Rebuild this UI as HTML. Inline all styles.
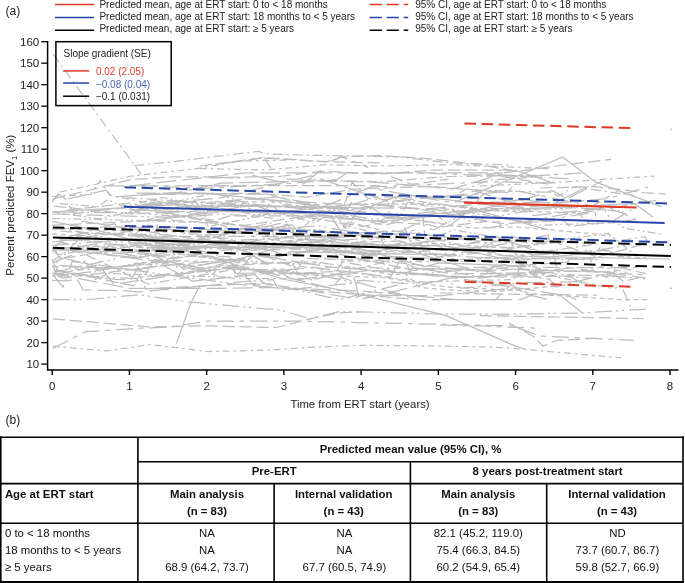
<!DOCTYPE html>
<html><head><meta charset="utf-8"><style>
html,body{margin:0;padding:0;background:#fff;width:685px;height:583px;overflow:hidden}
svg{display:block;will-change:transform}
text{font-family:"Liberation Sans",sans-serif}
</style></head><body>
<svg width="685" height="583" viewBox="0 0 685 583" shape-rendering="geometricPrecision">
<g fill="none" stroke="#bdbdbd" stroke-width="1.25" stroke-linejoin="round">
<polyline points="53.7,211.8 146.4,206.3 185.0,204.1 194.3,210.0 232.9,205.2 348.8,207.7 352.0,201.9"/>
<polyline points="75.4,234.6 90.8,236.2 100.1,231.5 215.9,245.1 231.4,227.8 240.6,250.4 302.4,248.8 311.7,246.4 317.9,244.9 433.7,245.5 510.9,240.8 522.9,270.8" stroke-dasharray="10 4 2 4"/>
<polyline points="52.2,229.0 129.4,226.6 191.2,231.1 200.5,236.5 209.7,235.0 271.5,231.4 287.0,224.0 296.2,234.5 388.9,245.9 450.7,239.5 512.5,236.7 542.0,243.9" stroke-dasharray="20 6"/>
<polyline points="52.2,225.3 168.0,220.0 245.3,225.3 307.1,216.0 313.2,216.6 429.1,224.8 438.4,227.4 484.7,221.5 500.1,222.2 500.6,228.5" stroke-dasharray="12.3 4.7"/>
<polyline points="52.2,221.3 98.5,230.7 175.8,251.6 214.4,230.5 253.0,232.2 291.6,224.7 307.1,238.9 353.4,244.2 446.1,246.0 507.9,259.8 523.3,260.0 596.2,252.2"/>
<polyline points="59.9,249.1 137.2,257.8 214.4,243.8 220.6,245.9 259.2,248.5 274.6,251.4 283.9,255.0 290.1,251.7 405.9,254.1 456.1,254.6"/>
<polyline points="52.2,260.7 61.5,255.3 70.7,247.7 148.0,284.0 225.2,271.1 234.5,268.0 296.2,271.4 311.7,280.1 404.4,257.1 411.3,276.5" stroke-dasharray="10 4 2 4"/>
<polyline points="52.2,248.6 61.5,250.5 123.3,253.7 138.7,251.4 231.4,243.3 324.0,249.4 362.7,241.9 401.3,241.2 439.9,257.3 478.5,252.9 484.7,246.6 490.9,243.7 529.5,253.8 645.3,236.9 649.7,246.6" stroke-dasharray="10 4 2 4"/>
<polyline points="52.2,264.9 58.4,276.6 135.6,264.6 144.9,274.7 154.1,260.5 192.8,281.2 270.0,273.1 331.8,288.5 341.0,277.6 418.3,299.6 495.5,299.6 510.9,284.6 526.4,294.4 548.9,299.6" stroke-dasharray="20 6"/>
<polyline points="52.2,201.8 58.4,194.0 64.6,198.3 73.8,213.6 166.5,203.0 205.1,207.5 243.7,198.7 336.4,203.8 375.0,204.6 467.7,212.7 544.9,205.5 603.0,209.8" stroke-dasharray="20 6"/>
<polyline points="75.4,231.2 90.8,233.3 168.0,234.9 183.5,245.3 198.9,244.0 214.4,229.8 223.7,228.6 316.3,229.6 385.0,239.3" stroke-dasharray="8 3 2 3 2 3"/>
<polyline points="59.9,239.3 69.2,249.0 78.5,239.9 155.7,249.3 271.5,222.9 274.0,239.7" stroke-dasharray="8 3 2 3 2 3"/>
<polyline points="67.6,237.4 114.0,223.8 152.6,245.6 229.8,236.4 307.1,236.6 368.8,235.0 378.1,237.7 382.5,246.9" stroke-dasharray="17 6 4.7 6"/>
<polyline points="53.7,272.4 131.0,255.4 208.2,269.0 246.8,265.9 262.3,282.2 339.5,299.6 401.3,284.2 410.5,274.7 472.3,269.6 549.6,279.2 555.7,287.2 602.1,275.1 645.1,279.1" stroke-dasharray="17 4 2.3 3.5 2.3 5"/>
<polyline points="52.2,242.0 129.4,231.3 175.8,251.0 268.4,239.0 384.3,252.1 430.6,245.7 436.8,244.5 446.1,250.6 492.4,236.7 538.7,251.0 548.0,251.3 555.5,250.9" stroke-dasharray="12.3 4.7"/>
<polyline points="59.9,203.7 98.5,206.6 107.8,199.6 123.3,207.0 161.9,197.5 254.5,214.6 293.2,213.7 308.6,203.4 354.9,214.3 401.3,213.9 407.5,203.1 500.1,217.2 538.7,225.2 616.0,222.7 625.2,228.4 661.5,234.2" stroke-dasharray="8 3 2 3 2 3"/>
<polyline points="56.1,262.7 71.5,248.1 148.7,242.5 164.2,265.3 170.4,252.8 216.7,259.2 293.9,263.8 328.5,263.6" stroke-dasharray="8 3 2 3 2 3"/>
<polyline points="52.2,266.5 114.0,267.6 175.8,260.6 214.4,272.7 220.6,264.9 282.3,274.3 297.8,266.0 375.0,275.5 421.4,281.9 514.0,279.5 520.2,268.0 535.7,272.6 612.9,288.7 617.2,287.4" stroke-dasharray="6.8 3.9 2.5 3.9"/>
<polyline points="52.2,214.0 168.0,217.3 245.3,206.6 260.7,212.9 276.2,200.2 282.3,204.9 375.0,219.4 452.3,209.0 467.7,221.0 560.4,205.7 566.6,215.5 656.1,200.4" stroke-dasharray="17 4 2.3 3.5 2.3 5"/>
<polyline points="52.2,273.4 129.4,288.3 222.1,288.3 260.7,287.7 270.0,287.6 362.7,291.1 455.3,299.6 464.6,299.6 473.9,299.6 520.2,299.6 535.1,294.0" stroke-dasharray="20 6"/>
<polyline points="59.9,241.0 98.5,238.0 144.9,240.7 191.2,246.6 266.0,248.0"/>
<polyline points="59.9,247.5 152.6,253.6 161.9,244.0 254.5,250.0 331.8,240.3 338.0,261.1 430.6,261.7 507.9,260.8 546.5,270.3 555.7,274.1 614.2,276.8" stroke-dasharray="6.8 3.9 2.5 3.9"/>
<polyline points="53.7,206.2 131.0,214.0 208.2,210.7 285.4,213.7 362.7,226.4 439.9,212.2 501.7,223.7 563.5,220.4 569.6,226.3 635.9,219.7" stroke-dasharray="12.3 4.7"/>
<polyline points="52.2,250.4 168.0,244.8 177.3,268.0 223.7,261.4 229.8,268.6 276.2,270.3 291.6,274.3 384.3,277.6 446.1,287.0 523.3,290.6 529.5,293.9 622.2,299.6 647.9,299.6" stroke-dasharray="5 3.5"/>
<polyline points="59.9,231.0 152.6,237.2 168.0,236.2 214.4,237.0 260.7,248.1 307.1,239.2 384.3,261.4 477.0,270.8 535.9,264.1" stroke-dasharray="12.3 4.7"/>
<polyline points="52.2,218.4 129.4,220.2 206.7,222.8 215.9,222.7 231.4,229.0 270.0,226.4 331.8,232.7 338.0,222.7 415.2,245.5 453.8,229.8 531.0,243.6 608.3,233.4 634.7,254.5" stroke-dasharray="8 3 2 3 2 3"/>
<polyline points="67.6,259.1 106.3,268.7 183.5,256.4 229.8,256.5 236.0,278.0 251.5,254.6 328.7,266.8 444.5,276.6 537.2,277.0 614.4,274.6 623.7,281.5 642.2,276.8" stroke-dasharray="12.3 4.7"/>
<polyline points="59.9,271.6 175.8,262.4 222.1,277.3 237.6,278.6 314.8,278.9 324.0,267.2 439.9,268.9 478.5,276.8 594.4,269.6 600.5,266.7 629.6,272.9" stroke-dasharray="6.8 3.9 2.5 3.9"/>
<polyline points="53.7,262.2 100.1,244.3 106.3,254.9 183.5,264.5 192.8,266.5 254.5,256.4 293.2,280.2 370.4,270.2 432.2,274.4 478.5,278.1 571.2,268.0 609.8,273.4 645.3,277.8" stroke-dasharray="20 6"/>
<polyline points="52.2,228.8 168.0,231.9 245.3,232.4 251.5,233.6 328.7,242.4 334.9,236.6 350.3,222.2 427.5,242.9 504.8,248.0 582.0,239.7 591.3,262.0 600.5,246.9 616.0,256.5 646.1,257.9" stroke-dasharray="5 3.5"/>
<polyline points="53.7,275.7 63.0,287.2 72.3,261.3 165.0,274.5 226.7,282.8 273.1,279.7 279.3,290.6 356.5,282.9 364.9,279.8" stroke-dasharray="17 4 2.3 3.5 2.3 5"/>
<polyline points="53.7,247.1 59.9,259.1 137.2,245.4 143.3,247.6 189.7,247.8 305.5,247.5 367.3,255.2 483.1,247.0 489.3,253.1 551.1,241.0 597.4,257.0 647.2,243.3" stroke-dasharray="12.3 4.7"/>
<polyline points="52.2,275.8 98.5,264.8 114.0,284.1 191.2,272.8 237.6,266.9 253.0,284.7 274.3,284.8" stroke-dasharray="20 6"/>
<polyline points="53.7,248.8 59.9,242.3 137.2,256.2 214.4,253.2 223.7,245.3 232.9,251.7 271.5,244.6 348.8,247.9 364.2,252.4 406.3,247.0" stroke-dasharray="17 4 2.3 3.5 2.3 5"/>
<polyline points="67.6,210.1 129.4,203.0 175.8,214.5 214.4,220.5 229.8,215.9 345.7,216.0 384.3,225.2 422.9,216.4 424.9,237.3" stroke-dasharray="12.3 4.7"/>
<polyline points="59.9,212.0 137.2,212.8 183.5,217.3 222.1,213.9 272.9,218.1" stroke-dasharray="17 4 2.3 3.5 2.3 5"/>
<polyline points="52.2,260.1 61.5,278.1 177.3,264.0 183.5,269.1 245.3,264.6 291.6,262.3 297.8,273.2 336.4,271.4 342.6,261.9 404.4,273.2 419.8,268.6 426.0,268.6 503.2,270.5 512.5,268.9 589.7,271.6 642.7,274.7" stroke-dasharray="12.3 4.7"/>
<polyline points="52.2,250.5 58.4,254.5 120.2,244.9 197.4,270.8 259.2,253.4 297.8,268.8 304.0,258.3 381.2,260.7 390.5,272.1 467.7,277.8 483.1,275.6 498.6,263.5 555.4,276.0" stroke-dasharray="12.3 4.7"/>
<polyline points="75.4,269.9 84.6,261.3 93.9,279.9 132.5,263.4 178.9,260.8 256.1,263.2 317.9,261.9 395.1,275.1 404.4,272.5 419.8,287.6 458.4,290.5 497.0,291.4 570.0,284.8" stroke-dasharray="5 3.5"/>
<polyline points="67.6,199.0 106.3,190.1 112.4,197.0 174.2,192.7 266.9,194.5 313.2,205.7 351.9,207.5 429.1,208.8 521.8,199.7 568.3,205.0" stroke-dasharray="20 6"/>
<polyline points="59.9,237.8 137.2,239.9 214.4,241.4 291.6,245.3 353.4,243.6 446.1,250.0 452.3,250.9 514.0,256.4 606.7,250.3 627.6,258.6" stroke-dasharray="17 6 4.7 6"/>
<polyline points="52.2,233.8 129.4,240.4 144.9,224.5 183.5,233.1 229.8,238.7 245.3,246.8 322.5,236.2 338.0,246.6 415.2,230.0 453.8,259.8 492.4,258.4 514.5,258.9" stroke-dasharray="5 3.5"/>
<polyline points="52.2,250.0 98.5,243.8 160.3,245.6 237.6,262.3 246.8,256.5 293.2,243.2 370.4,255.5 432.2,258.2 548.0,235.0 556.4,266.3" stroke-dasharray="20 6"/>
<polyline points="52.2,211.9 98.5,218.9 214.4,193.0 276.2,212.2 314.8,223.0 330.2,213.3 407.5,200.0 500.1,211.3 577.4,207.6 616.0,210.9 622.2,210.6 624.7,214.9" stroke-dasharray="8 3 2 3 2 3"/>
<polyline points="53.7,270.9 115.5,279.3 131.0,279.7 137.2,268.8 152.6,276.7 229.8,268.5 276.2,273.0 353.4,274.5 359.6,299.6 452.3,277.6 568.1,296.0 576.2,299.6" stroke-dasharray="20 6"/>
<polyline points="52.2,280.3 67.6,280.8 76.9,278.8 83.1,290.0 121.7,290.6 137.2,291.9 229.8,283.7 307.1,290.1 353.4,298.4 362.7,295.2 439.9,295.8 515.6,287.8" stroke-dasharray="20 6"/>
<polyline points="52.2,273.4 90.8,276.8 137.2,278.6 143.3,276.7 220.6,268.2 313.2,273.9 351.9,282.2 361.1,280.4 407.5,283.5 446.1,280.8 461.5,288.2 523.3,282.9 582.0,281.6" stroke-dasharray="17 4 2.3 3.5 2.3 5"/>
<polyline points="56.1,269.8 133.3,285.7 139.5,275.5 145.6,288.8 261.5,283.2 307.8,290.1 415.8,299.6" stroke-dasharray="12.3 4.7"/>
<polyline points="75.4,273.3 90.8,276.4 97.0,269.4 103.2,272.7 112.4,273.7 228.3,277.1 284.4,268.9" stroke-dasharray="8 3 2 3 2 3"/>
<polyline points="52.2,196.5 90.8,194.3 100.1,180.5 109.4,195.0 155.7,204.8 194.3,201.8 240.6,207.7 246.8,197.4 308.6,207.5 370.4,203.7 432.2,211.1 449.6,225.7" stroke-dasharray="6.8 3.9 2.5 3.9"/>
<polyline points="75.4,237.8 81.5,233.0 174.2,249.2 183.5,243.2 299.3,237.0 305.5,243.1 398.2,235.6 404.4,227.3 410.5,241.4 426.0,236.8 503.2,255.7 595.9,250.7 631.4,244.5" stroke-dasharray="17 4 2.3 3.5 2.3 5"/>
<polyline points="52.2,245.4 144.9,238.0 154.1,249.2 231.4,248.6 308.6,233.0 385.8,249.6 392.0,246.2 469.2,236.3 531.7,247.3" stroke-dasharray="17 4 2.3 3.5 2.3 5"/>
<polyline points="59.9,239.6 175.8,244.6 237.6,260.5 314.8,250.1 407.5,251.3 484.7,258.2 531.0,258.6 602.8,259.6" stroke-dasharray="17 4 2.3 3.5 2.3 5"/>
<polyline points="67.6,232.5 83.1,221.2 198.9,239.7 291.6,244.7 330.2,238.5 376.6,232.8 385.8,247.1 401.3,242.5 478.5,249.7 494.0,236.2 540.3,252.7 559.8,255.0" stroke-dasharray="12.3 4.7"/>
<polyline points="52.2,248.1 129.4,252.4 175.8,258.4 253.0,245.6 330.2,251.7 336.4,253.6 413.6,270.3 529.5,265.0 568.1,262.0 572.6,251.4" stroke-dasharray="12.3 4.7"/>
<polyline points="59.9,265.4 137.2,269.8 152.6,266.6 229.8,259.7 236.0,273.3 251.5,273.2 313.2,267.4 390.5,277.1 399.7,260.7 415.2,267.8 453.8,274.0 553.7,272.5" stroke-dasharray="20 6"/>
<polyline points="138.4,208.6 231.1,224.4 292.9,232.4 331.5,209.2 346.9,229.8 356.2,212.3 472.1,228.1 518.4,227.0 595.6,234.1 609.9,236.6" stroke-dasharray="5 3.5"/>
<polyline points="141.1,204.5 218.4,198.2 311.0,175.8 388.3,201.6 465.5,194.1 474.8,190.9 513.4,203.1 552.0,190.6 567.4,198.5 602.1,181.2" stroke-dasharray="20 6"/>
<polyline points="152.5,200.3 191.1,208.3 237.4,202.8 314.7,209.8 330.1,212.2 376.4,196.7 438.2,197.5 515.5,190.6 592.7,205.9 617.8,191.0" stroke-dasharray="17 6 4.7 6"/>
<polyline points="150.4,236.0 165.8,249.7 258.5,225.9 264.7,240.1 270.9,229.8 317.2,225.6 363.6,234.0 402.2,230.8 417.6,222.7 433.1,230.0 471.7,210.4 487.1,228.2 603.0,207.4 612.2,221.5 635.3,207.4" stroke-dasharray="17 4 2.3 3.5 2.3 5"/>
<polyline points="137.0,234.7 214.2,242.9 223.5,245.2 269.8,258.0 347.0,245.2 424.3,266.6 439.7,262.8 516.5,266.0"/>
<polyline points="126.7,197.6 203.9,202.8 265.7,206.3 342.9,208.5 352.2,182.2 367.6,198.1 373.8,199.1 380.0,199.6 441.8,196.4 451.0,197.5 466.5,189.1 472.7,186.5 488.1,180.3 536.4,177.1" stroke-dasharray="10 4 2 4"/>
<polyline points="136.4,193.1 175.0,193.1 221.3,183.2 314.0,180.7 375.8,182.3 453.0,188.8 499.3,174.7 574.4,179.3" stroke-dasharray="20 6"/>
<polyline points="146.2,220.4 192.5,205.2 201.8,204.5 208.0,226.5 285.2,211.2 377.9,221.4 387.1,217.8 393.3,200.8 470.5,208.3 538.3,209.1" stroke-dasharray="8 3 2 3 2 3"/>
<polyline points="149.8,202.3 265.7,201.9 271.8,206.4 349.1,208.7 364.5,209.0 370.7,208.8 376.9,204.2 438.7,204.0 485.0,210.5 577.7,212.7 590.4,223.8" stroke-dasharray="5 3.5"/>
<polyline points="122.8,205.4 200.0,219.9 315.8,236.0 393.1,230.8 480.7,241.5" stroke-dasharray="12.3 4.7"/>
<polyline points="122.1,203.8 137.6,212.1 146.9,203.7 156.1,208.5 171.6,210.0 177.7,207.1 187.0,206.1 196.3,206.2 273.5,206.5 279.7,212.1 356.9,204.2 372.4,208.2 387.8,218.5 397.1,218.1 474.3,209.6 548.7,229.8"/>
<polyline points="143.9,238.6 259.7,242.3 375.6,254.4 391.0,245.0 479.1,272.0"/>
<polyline points="131.5,195.6 140.7,195.0 202.5,193.2 279.8,200.8 357.0,211.5 403.3,194.1 519.2,208.9 635.0,203.7 652.8,217.0"/>
<polyline points="147.4,220.9 224.6,211.2 301.8,213.5 379.1,221.5 456.3,214.1 502.6,204.6 549.0,205.8 588.4,186.2"/>
<polyline points="130.6,185.8 246.5,172.8 339.1,172.8 416.4,172.8 503.0,172.8" stroke-dasharray="20 6"/>
<polyline points="146.3,194.3 262.2,193.2 268.4,194.4 307.0,197.1 353.3,189.1 430.5,186.4 507.8,192.6 514.1,184.1" stroke-dasharray="12.3 4.7"/>
<polyline points="128.9,185.5 206.1,188.4 298.8,182.7 337.4,179.6 346.7,172.8 408.5,172.8 524.3,176.4 584.4,172.8" stroke-dasharray="17 6 4.7 6"/>
<polyline points="129.3,209.8 206.5,212.9 215.8,201.6 277.6,197.1 323.9,205.7 330.1,204.2 368.7,187.8 446.0,201.6 561.8,202.7 608.1,198.4 648.0,187.1" stroke-dasharray="17 6 4.7 6"/>
<polyline points="129.6,227.3 145.0,228.2 151.2,225.5 243.9,232.2 321.1,213.4 330.4,214.8 339.6,229.7 348.9,221.7 358.2,211.3 450.8,224.8 466.3,212.9 484.0,193.5" stroke-dasharray="17 4 2.3 3.5 2.3 5"/>
<polyline points="457.8,214.3 519.6,206.2 525.7,211.7 531.9,215.7 609.2,207.4 615.3,211.2 621.5,212.6 636.4,219.9" stroke-dasharray="20 6"/>
<polyline points="471.4,215.9 533.1,221.9 594.9,212.2 597.7,224.6" stroke-dasharray="17 6 4.7 6"/>
<polyline points="475.0,190.2 552.2,192.3 558.4,196.2 573.8,186.8 634.2,195.5" stroke-dasharray="10 4 2 4"/>
<polyline points="53.0,54.0 141.0,174.0" stroke-dasharray="10 4 2 4"/>
<polyline points="134.0,165.5 170.0,162.0 202.8,158.0 258.8,151.4 264.5,153.7 300.0,155.0 352.0,156.0 400.0,157.0 450.0,163.0 512.0,165.0" stroke-dasharray="10 4 2 4"/>
<polyline points="215.0,164.7 262.6,158.0 279.7,159.0 330.0,161.8 380.0,163.0" stroke-dasharray="12.3 4.7"/>
<polyline points="455.0,202.0 472.0,195.2 562.7,157.0 594.7,181.6 661.3,206.6"/>
<polyline points="470.0,176.0 520.0,171.0 562.0,165.2 611.0,159.4" stroke-dasharray="12.3 4.7"/>
<polyline points="480.0,186.0 562.0,182.0 654.3,176.2" stroke-dasharray="6.8 3.9 2.5 3.9"/>
<polyline points="540.0,188.0 594.7,186.7 625.0,190.2 643.8,192.6 666.0,194.2" stroke-dasharray="12.3 4.7"/>
<polyline points="52.7,299.5 87.7,299.5 139.1,294.8 188.2,301.8 208.0,303.7 246.7,307.2 281.8,310.2 309.8,318.9 337.8,311.9 360.0,311.9 440.0,314.0 512.0,314.0 581.0,313.0 648.0,309.0" stroke-dasharray="17 4 2.3 3.5 2.3 5"/>
<polyline points="52.7,318.9 150.8,327.0 202.0,325.9 277.0,327.5 305.0,320.0 337.8,313.0 360.0,312.0" stroke-dasharray="12.3 4.7"/>
<polyline points="52.7,348.5 85.4,331.7 141.4,328.2 169.5,327.0 208.0,321.2 305.0,321.2 352.0,322.4 512.0,325.9 540.0,336.0 634.0,340.4" stroke-dasharray="17 6 4.7 6"/>
<polyline points="52.7,346.2 106.4,350.9 150.8,344.6 208.0,351.6 270.0,350.0 305.0,347.6 360.0,345.3 440.0,346.0 504.0,347.6 621.0,357.9" stroke-dasharray="6.8 3.9 2.5 3.9"/>
<polyline points="150.0,240.0 230.0,263.0 285.0,279.5 318.0,285.7 352.0,292.5 445.4,315.4 512.0,344.6 524.5,349.0"/>
<polyline points="176.5,343.4 190.5,303.7 200.0,285.0"/>
<polyline points="60.0,192.0 100.6,183.2 130.3,176.2 168.0,171.8 195.0,168.9 240.0,161.0 290.0,160.0" stroke-dasharray="6.8 3.9 2.5 3.9"/>
<polyline points="52.7,199.0 90.0,190.0 130.3,179.7 174.0,176.8 202.0,176.8 240.0,178.0" stroke-dasharray="12.3 4.7"/>
<polyline points="107.6,185.8 168.0,185.8 240.0,186.0" stroke-dasharray="17 6 4.7 6"/>
<polyline points="480.0,315.7 560.0,317.0 643.5,318.6" stroke-dasharray="12.3 4.7"/>
<polyline points="440.0,325.0 480.0,325.9 538.4,328.2" stroke-dasharray="17 6 4.7 6"/>
<polyline points="509.2,323.0 535.5,337.6 542.8,346.3 556.0,340.5 600.0,338.0" stroke-dasharray="12.3 4.7"/>
<polyline points="561.8,296.7 582.2,312.7"/>
<polyline points="623.0,289.4 630.4,306.9" stroke-dasharray="12.3 4.7"/>
<polyline points="440.0,293.0 480.0,293.8 596.8,295.2" stroke-dasharray="12.3 4.7"/>
<polyline points="200.0,166.0 263.0,157.6 294.6,159.5 326.0,162.0 341.9,156.8 380.0,155.5 422.5,158.1 480.4,164.7 517.1,171.3" stroke-dasharray="12.3 4.7"/>
<polyline points="264.4,157.6 271.0,168.6"/>
<polyline points="200.0,168.6 265.7,170.0 326.0,164.7 380.0,166.0 448.8,164.7 550.0,168.6" stroke-dasharray="6.8 3.9 2.5 3.9"/>
<polyline points="210.5,177.8 278.8,176.5 320.9,171.3 380.0,174.0 435.7,170.0 517.0,170.0" stroke-dasharray="12.3 4.7"/>
<polyline points="302.5,184.4 320.9,170.0"/>
<polyline points="331.4,160.8 341.9,156.8 368.2,167.3" stroke-dasharray="17 6 4.7 6"/>
<polyline points="252.5,175.2 278.8,181.8"/>
<polyline points="200.0,185.7 300.0,185.7 380.0,185.7" stroke-dasharray="12.3 4.7"/>
<polyline points="286.7,179.2 380.0,181.8 448.8,176.5 550.0,175.2" stroke-dasharray="10 4 2 4"/>
<polyline points="391.0,176.5 412.0,184.4 448.8,179.2" stroke-dasharray="12.3 4.7"/>
<polyline points="370.0,187.0 488.2,181.8 560.0,183.0" stroke-dasharray="17 6 4.7 6"/>
<polyline points="485.6,173.9 550.0,184.4" stroke-dasharray="12.3 4.7"/>
<polyline points="514.5,170.0 550.0,181.8"/>
<polyline points="480.0,267.7 547.0,270.7 617.0,272.0" stroke-dasharray="12.3 4.7"/>
<polyline points="480.0,273.6 538.4,275.0 591.0,278.0" stroke-dasharray="6.8 3.9 2.5 3.9"/>
<polyline points="509.0,266.3 567.6,267.7 643.5,267.7" stroke-dasharray="17 6 4.7 6"/>
<polyline points="605.5,278.0 620.0,267.7 646.4,273.6" stroke-dasharray="12.3 4.7"/>
<polyline points="567.6,275.0 582.2,283.8"/>
<polyline points="526.7,269.2 538.4,278.0"/>
<polyline points="509.0,256.0 669.8,259.0"/>
<polyline points="480.0,257.5 596.8,259.0" stroke-dasharray="12.3 4.7"/>
</g>
<g stroke="#000" stroke-width="1.5" fill="none">
<line x1="47.6" y1="41" x2="47.6" y2="370.6"/>
<line x1="46.9" y1="369.9" x2="678.5" y2="369.9"/>
<line x1="41.3" y1="364.10" x2="47.6" y2="364.10" stroke-width="1.3"/>
<line x1="41.3" y1="342.61" x2="47.6" y2="342.61" stroke-width="1.3"/>
<line x1="41.3" y1="321.11" x2="47.6" y2="321.11" stroke-width="1.3"/>
<line x1="41.3" y1="299.62" x2="47.6" y2="299.62" stroke-width="1.3"/>
<line x1="41.3" y1="278.13" x2="47.6" y2="278.13" stroke-width="1.3"/>
<line x1="41.3" y1="256.63" x2="47.6" y2="256.63" stroke-width="1.3"/>
<line x1="41.3" y1="235.14" x2="47.6" y2="235.14" stroke-width="1.3"/>
<line x1="41.3" y1="213.65" x2="47.6" y2="213.65" stroke-width="1.3"/>
<line x1="41.3" y1="192.16" x2="47.6" y2="192.16" stroke-width="1.3"/>
<line x1="41.3" y1="170.66" x2="47.6" y2="170.66" stroke-width="1.3"/>
<line x1="41.3" y1="149.17" x2="47.6" y2="149.17" stroke-width="1.3"/>
<line x1="41.3" y1="127.68" x2="47.6" y2="127.68" stroke-width="1.3"/>
<line x1="41.3" y1="106.18" x2="47.6" y2="106.18" stroke-width="1.3"/>
<line x1="41.3" y1="84.69" x2="47.6" y2="84.69" stroke-width="1.3"/>
<line x1="41.3" y1="63.20" x2="47.6" y2="63.20" stroke-width="1.3"/>
<line x1="41.3" y1="41.70" x2="47.6" y2="41.70" stroke-width="1.3"/>
<line x1="52.20" y1="369.9" x2="52.20" y2="375" stroke-width="1.4"/>
<line x1="129.43" y1="369.9" x2="129.43" y2="375" stroke-width="1.4"/>
<line x1="206.66" y1="369.9" x2="206.66" y2="375" stroke-width="1.4"/>
<line x1="283.89" y1="369.9" x2="283.89" y2="375" stroke-width="1.4"/>
<line x1="361.12" y1="369.9" x2="361.12" y2="375" stroke-width="1.4"/>
<line x1="438.35" y1="369.9" x2="438.35" y2="375" stroke-width="1.4"/>
<line x1="515.58" y1="369.9" x2="515.58" y2="375" stroke-width="1.4"/>
<line x1="592.81" y1="369.9" x2="592.81" y2="375" stroke-width="1.4"/>
<line x1="670.04" y1="369.9" x2="670.04" y2="375" stroke-width="1.4"/>
</g>
<g font-family="Liberation Sans, sans-serif" font-size="11.5" fill="#222">
<text x="39.2" y="368.20" text-anchor="end">10</text>
<text x="39.2" y="346.71" text-anchor="end">20</text>
<text x="39.2" y="325.21" text-anchor="end">30</text>
<text x="39.2" y="303.72" text-anchor="end">40</text>
<text x="39.2" y="282.23" text-anchor="end">50</text>
<text x="39.2" y="260.74" text-anchor="end">60</text>
<text x="39.2" y="239.24" text-anchor="end">70</text>
<text x="39.2" y="217.75" text-anchor="end">80</text>
<text x="39.2" y="196.26" text-anchor="end">90</text>
<text x="39.2" y="174.76" text-anchor="end">100</text>
<text x="39.2" y="153.27" text-anchor="end">110</text>
<text x="39.2" y="131.78" text-anchor="end">120</text>
<text x="39.2" y="110.28" text-anchor="end">130</text>
<text x="39.2" y="88.79" text-anchor="end">140</text>
<text x="39.2" y="67.30" text-anchor="end">150</text>
<text x="39.2" y="45.80" text-anchor="end">160</text>
<text x="52.20" y="389.6" text-anchor="middle">0</text>
<text x="129.43" y="389.6" text-anchor="middle">1</text>
<text x="206.66" y="389.6" text-anchor="middle">2</text>
<text x="283.89" y="389.6" text-anchor="middle">3</text>
<text x="361.12" y="389.6" text-anchor="middle">4</text>
<text x="438.35" y="389.6" text-anchor="middle">5</text>
<text x="515.58" y="389.6" text-anchor="middle">6</text>
<text x="592.81" y="389.6" text-anchor="middle">7</text>
<text x="670.04" y="389.6" text-anchor="middle">8</text>
</g>
<text x="360" y="407.7" text-anchor="middle" font-family="Liberation Sans, sans-serif" font-size="11.3" fill="#222">Time from ERT start (years)</text>
<text transform="translate(13.7,205.2) rotate(-90)" text-anchor="middle" font-family="Liberation Sans, sans-serif" font-size="11.5" fill="#222">Percent predicted FEV<tspan font-size="7.5" dy="3">1</tspan><tspan dy="-3"> (%)</tspan></text>
<text x="5.6" y="14.7" font-family="Liberation Sans, sans-serif" font-size="12" fill="#222">(a)</text>
<text x="5.6" y="423.6" font-family="Liberation Sans, sans-serif" font-size="12" fill="#222">(b)</text>
<line x1="52.9" y1="237.5" x2="670.9" y2="256.1" stroke="#000" stroke-width="2"/>
<line x1="52.9" y1="227.4" x2="670.9" y2="244.9" stroke="#000" stroke-width="2" stroke-dasharray="11.5 5.64"/>
<line x1="52.9" y1="247.8" x2="670.9" y2="267.0" stroke="#000" stroke-width="2" stroke-dasharray="11.5 5.64"/>
<line x1="124.0" y1="206.7" x2="664.6" y2="223.0" stroke="#2646a8" stroke-width="2"/>
<line x1="124.5" y1="187.3" x2="671.2" y2="203.5" stroke="#2646a8" stroke-width="2" stroke-dasharray="11.5 5.64"/>
<line x1="124.7" y1="225.9" x2="671.2" y2="242.4" stroke="#2646a8" stroke-width="2" stroke-dasharray="11.5 5.64"/>
<line x1="463.9" y1="202.6" x2="636.6" y2="207.5" stroke="#dc3a26" stroke-width="2.2"/>
<line x1="464.5" y1="123.5" x2="630.6" y2="128.1" stroke="#dc3a26" stroke-width="2" stroke-dasharray="11.5 5.64"/>
<line x1="464.8" y1="281.8" x2="630.4" y2="286.7" stroke="#dc3a26" stroke-width="2" stroke-dasharray="11.5 5.64"/>
<line x1="670.2" y1="129.4" x2="671.8" y2="129.4" stroke="#b8a8a8" stroke-width="1.4"/>
<line x1="670.2" y1="288.2" x2="671.8" y2="288.2" stroke="#b8a8a8" stroke-width="1.4"/>
<g font-family="Liberation Sans, sans-serif" font-size="10" fill="#222">
<line x1="54.9" y1="4.6" x2="94.1" y2="4.6" stroke="#dc3a26" stroke-width="1.5"/>
<line x1="54.9" y1="17.5" x2="94.1" y2="17.5" stroke="#2646a8" stroke-width="1.5"/>
<line x1="54.9" y1="30.2" x2="94.1" y2="30.2" stroke="#000" stroke-width="1.5"/>
<text x="99.4" y="8.1">Predicted mean, age at ERT start: 0 to &lt; 18 months</text>
<text x="99.4" y="19.9">Predicted mean, age at ERT start: 18 months to &lt; 5 years</text>
<text x="99.4" y="31.9">Predicted mean, age at ERT start: ≥ 5 years</text>
<line x1="369.6" y1="4.6" x2="408.2" y2="4.6" stroke="#dc3a26" stroke-width="1.5" stroke-dasharray="12.3 4.7"/>
<line x1="369.6" y1="17.5" x2="408.2" y2="17.5" stroke="#2646a8" stroke-width="1.5" stroke-dasharray="12.3 4.7"/>
<line x1="369.6" y1="30.2" x2="408.2" y2="30.2" stroke="#000" stroke-width="1.5" stroke-dasharray="12.3 4.7"/>
<text x="415.2" y="8.1">95% CI, age at ERT start: 0 to &lt; 18 months</text>
<text x="415.2" y="19.9">95% CI, age at ERT start: 18 months to &lt; 5 years</text>
<text x="415.2" y="31.9">95% CI, age at ERT start: ≥ 5 years</text>
</g>
<rect x="55.9" y="41.7" width="115.3" height="63.9" fill="none" stroke="#000" stroke-width="1.5"/>
<g font-family="Liberation Sans, sans-serif" font-size="10">
<text x="63.5" y="56.5" fill="#222">Slope gradient (SE)</text>
<line x1="63.1" y1="70.9" x2="89.2" y2="70.9" stroke="#dc3a26" stroke-width="1.5"/>
<line x1="63.1" y1="83.0" x2="89.2" y2="83.0" stroke="#2646a8" stroke-width="1.5"/>
<line x1="63.1" y1="96.2" x2="89.2" y2="96.2" stroke="#000" stroke-width="1.5"/>
<text x="95.9" y="75.4" fill="#d9432f">0.02 (2.05)</text>
<text x="95.9" y="87.8" fill="#4a68b0">−0.08 (0.04)</text>
<text x="95.9" y="100.2" fill="#222">−0.1 (0.031)</text>
</g>
<g stroke="#000" stroke-width="1.6" fill="none">
<line x1="0" y1="437.2" x2="684" y2="437.2"/>
<line x1="0.8" y1="436.4" x2="0.8" y2="583"/>
<line x1="683" y1="436.4" x2="683" y2="583"/>
<line x1="0" y1="582.1" x2="684" y2="582.1" stroke-width="2"/>
<line x1="137.9" y1="437.2" x2="137.9" y2="582"/>
<line x1="410.4" y1="461.8" x2="410.4" y2="582"/>
<line x1="274.1" y1="483.6" x2="274.1" y2="582"/>
<line x1="546.7" y1="483.6" x2="546.7" y2="582"/>
<line x1="137.9" y1="461.8" x2="683" y2="461.8"/>
<line x1="0.8" y1="483.6" x2="683" y2="483.6"/>
<line x1="0.8" y1="523.2" x2="683" y2="523.2"/>
</g>
<g font-family="Liberation Sans, sans-serif" font-size="11.4" fill="#111">
<g font-weight="bold" text-anchor="middle">
<text x="410.5" y="452.7">Predicted mean value (95% CI), %</text>
<text x="274.2" y="475">Pre-ERT</text>
<text x="547.6" y="475">8 years post-treatment start</text>
<text x="207" y="498.4">Main analysis</text>
<text x="207" y="514.6">(n = 83)</text>
<text x="478.3" y="498.4">Main analysis</text>
<text x="478.3" y="514.6">(n = 83)</text>
<text x="343.7" y="498.4">Internal validation</text>
<text x="343.7" y="514.6">(n = 43)</text>
<text x="617" y="498.4">Internal validation</text>
<text x="617" y="514.6">(n = 43)</text>
<text x="4.9" y="498.2" text-anchor="start">Age at ERT start</text>
</g>
<text x="4.9" y="537.0">0 to &lt; 18 months</text>
<text x="207" y="537.0" text-anchor="middle">NA</text>
<text x="344.4" y="537.0" text-anchor="middle">NA</text>
<text x="478.3" y="537.0" text-anchor="middle">82.1 (45.2, 119.0)</text>
<text x="617.4" y="537.0" text-anchor="middle">ND</text>
<text x="4.9" y="553.9">18 months to &lt; 5 years</text>
<text x="207" y="553.9" text-anchor="middle">NA</text>
<text x="344.4" y="553.9" text-anchor="middle">NA</text>
<text x="478.3" y="553.9" text-anchor="middle">75.4 (66.3, 84.5)</text>
<text x="617.4" y="553.9" text-anchor="middle">73.7 (60.7, 86.7)</text>
<text x="4.9" y="570.9">≥ 5 years</text>
<text x="207" y="570.9" text-anchor="middle">68.9 (64.2, 73.7)</text>
<text x="344.4" y="570.9" text-anchor="middle">67.7 (60.5, 74.9)</text>
<text x="478.3" y="570.9" text-anchor="middle">60.2 (54.9, 65.4)</text>
<text x="617.4" y="570.9" text-anchor="middle">59.8 (52.7, 66.9)</text>
</g>
</svg>
</body></html>
